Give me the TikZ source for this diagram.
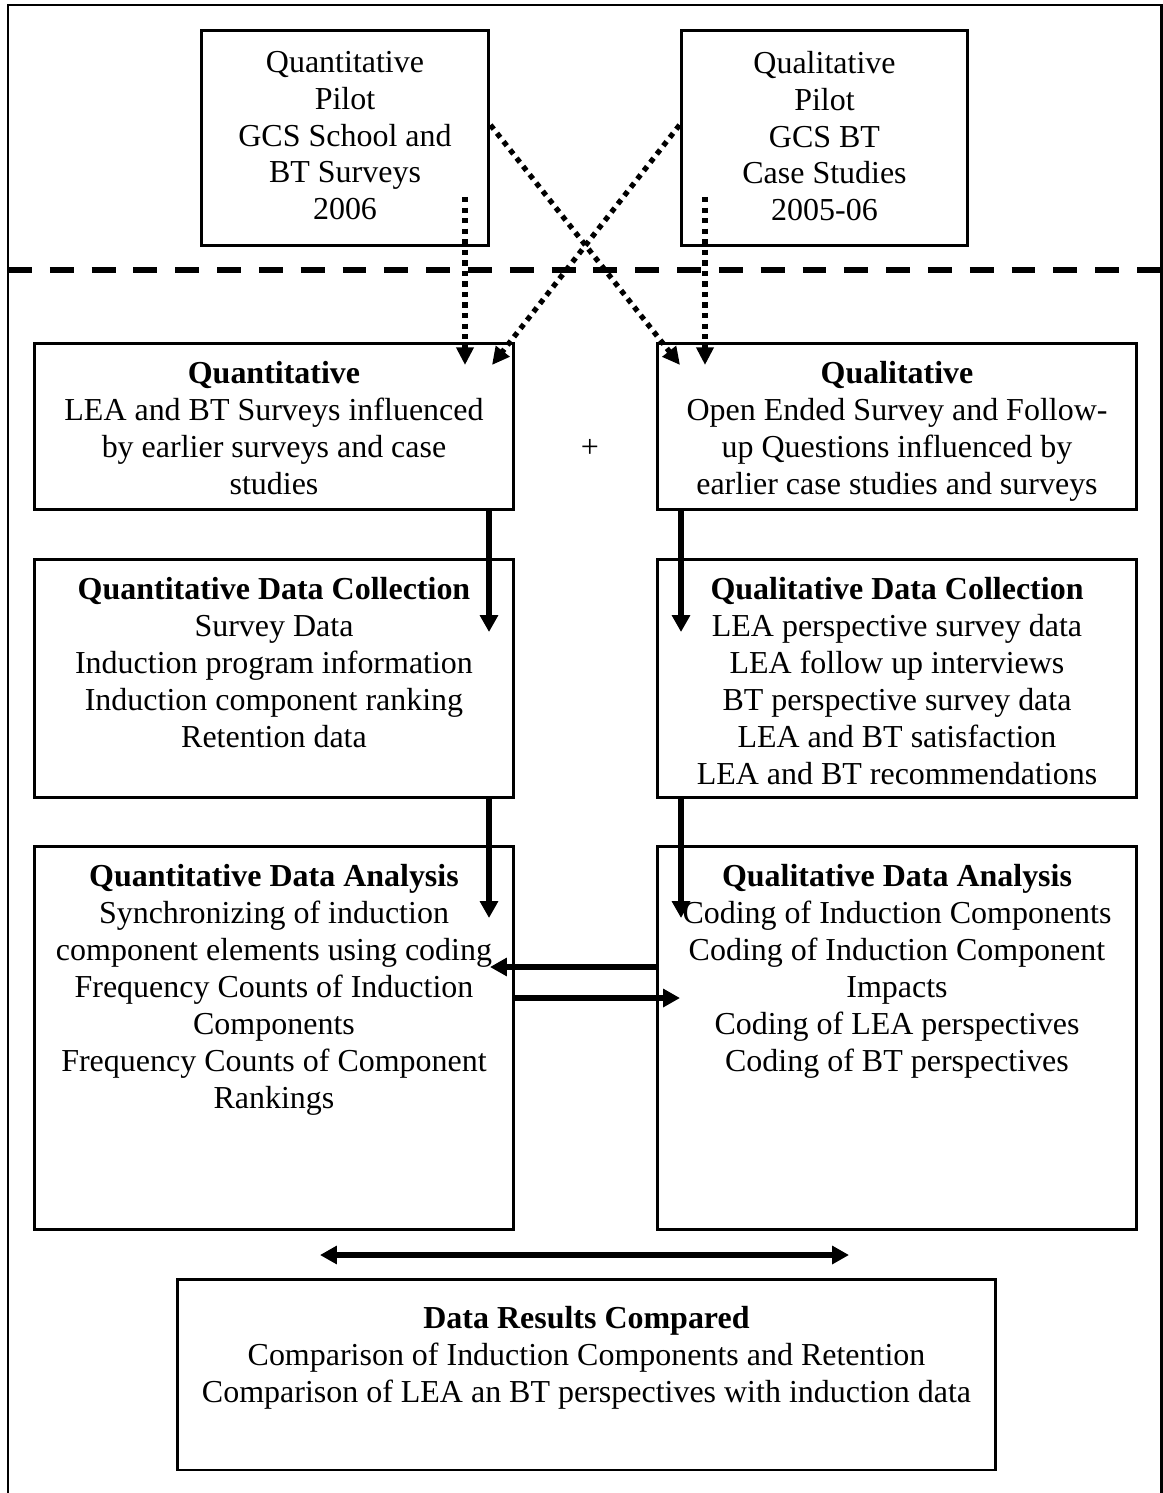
\documentclass[tikz,border=0pt]{standalone}
\usepackage{fontspec}
\setmainfont{Liberation Serif}
\usepackage{tikz}
\usetikzlibrary{arrows.meta}

\newcommand{\stagetext}[3]{\parbox[c][#2][t]{#1}{\centering\vspace*{10.5pt}#3}}

\begin{document}
\begin{tikzpicture}[x=0.02cm, y=-0.02cm,
    every node/.style={font=\fontsize{18.2}{21}\selectfont},
    box/.style={draw, line width=1.7pt, inner sep=0pt, rectangle},
    flow/.style={-{Triangle[length=9.6pt, width=10pt]}, line width=3.3pt},
    both/.style={{Triangle[length=9.6pt, width=10pt]}-{Triangle[length=9.6pt, width=10pt]}, line width=3.3pt},
    dotflow/.style={-{Triangle[length=10pt, width=9.5pt]}, line width=3pt, dash pattern=on 3pt off 3pt},
    divider/.style={line width=3.4pt, dash pattern=on 13.6pt off 10.2pt}
]
\useasboundingbox (0,0) rectangle (1162,1493);

% Frame
\draw[line width=1.7pt] (8,1493) -- (8,5) -- (1161,5) -- (1161,1493);
\draw[divider] (8,270) -- (1161,270);

% Pilot studies
\node[box] (pilotqn) at (345,138) {\stagetext{5.76cm}{4.32cm}{\vspace*{1.5pt}Quantitative\\Pilot\\GCS School and\\BT Surveys\\2006}};
\node[box] (pilotql) at (824.5,138) {\stagetext{5.74cm}{4.32cm}{\vspace*{1.5pt}Qualitative\\Pilot\\GCS BT\\Case Studies\\2005-06}};

% Stages
\node[box] (quant) at (274,426.5) {\stagetext{9.6cm}{3.34cm}{\textbf{Quantitative}\\LEA and BT Surveys influenced\\by earlier surveys and case\\studies}};
\node[box] (qual) at (897,426.5) {\stagetext{9.6cm}{3.34cm}{\textbf{Qualitative}\\Open Ended Survey and Follow-\\up Questions influenced by\\earlier case studies and surveys}};
\node (plus) at (590,448) {+};

\node[box] (qncoll) at (274,678.5) {\stagetext{9.6cm}{4.78cm}{\textbf{Quantitative Data Collection}\\Survey Data\\Induction program information\\Induction component ranking\\Retention data}};
\node[box] (qlcoll) at (897,678.5) {\stagetext{9.6cm}{4.78cm}{\textbf{Qualitative Data Collection}\\LEA perspective survey data\\LEA follow up interviews\\BT perspective survey data\\LEA and BT satisfaction\\LEA and BT recommendations}};

\node[box] (qnana) at (274,1038) {\stagetext{9.6cm}{7.68cm}{\textbf{Quantitative Data Analysis}\\Synchronizing of induction\\component elements using coding\\Frequency Counts of Induction\\Components\\Frequency Counts of Component\\Rankings}};
\node[box] (qlana) at (897,1038) {\stagetext{9.6cm}{7.68cm}{\textbf{Qualitative Data Analysis}\\Coding of Induction Components\\Coding of Induction Component\\Impacts\\Coding of LEA perspectives\\Coding of BT perspectives}};

\node[box] (results) at (586.5,1374.5) {\stagetext{16.38cm}{3.82cm}{\vspace*{5pt}\textbf{Data Results Compared}\\Comparison of Induction Components and Retention\\Comparison of LEA an BT perspectives with induction data}};

% Arrow ends
\coordinate (qnin) at (465,365);
\coordinate (qlin) at (705,365);
\coordinate (crossql) at (680,365);
\coordinate (crossqn) at (492,365);
\coordinate (qncollin) at (489,632);
\coordinate (qlcollin) at (681,632);
\coordinate (qnanain) at (489,918);
\coordinate (qlanain) at (681,918);
\coordinate (backin) at (490,967);
\coordinate (overin) at (680,998);
\coordinate (cmpl) at (320,1255);
\coordinate (cmpr) at (849,1255);

% Pilot influence
\draw[dotflow] (qnin |- 0,197) -- (qnin);
\draw[dotflow] (qlin |- 0,197) -- (qlin);
\draw[dotflow] (pilotqn.east |- 0,125) -- (crossql);
\draw[dotflow] (pilotql.west |- 0,125) -- (crossqn);

% Flow
\draw[flow] (qncollin |- quant.south) -- (qncollin);
\draw[flow] (qlcollin |- qual.south) -- (qlcollin);
\draw[flow] (qnanain |- qncoll.south) -- (qnanain);
\draw[flow] (qlanain |- qlcoll.south) -- (qlanain);
\draw[flow] (qlana.west |- backin) -- (backin);
\draw[flow] (qnana.east |- overin) -- (overin);
\draw[both] (cmpl) -- (cmpr);

\end{tikzpicture}
\end{document}
